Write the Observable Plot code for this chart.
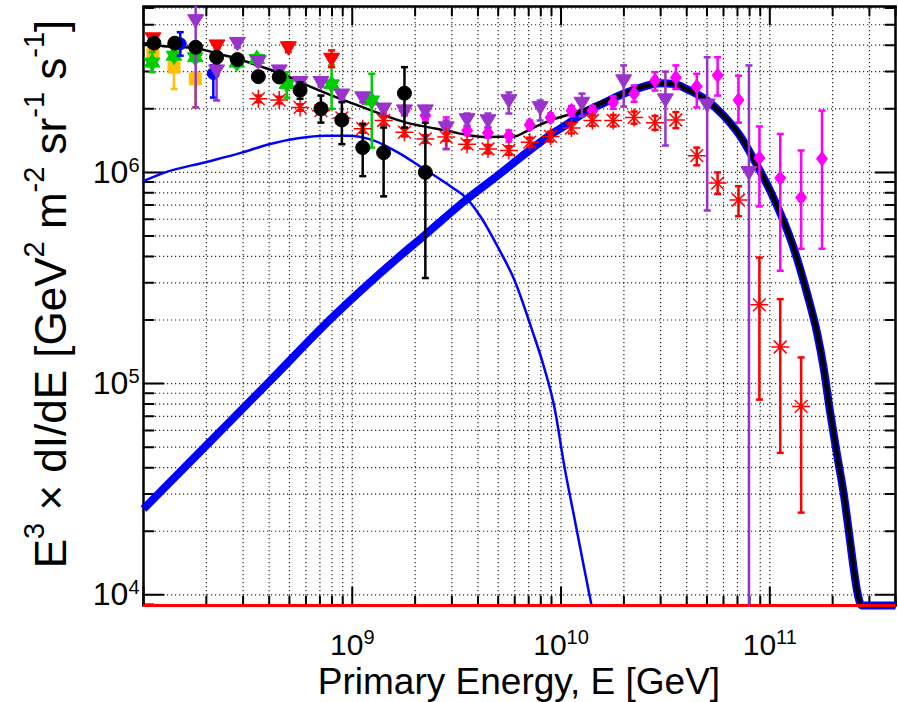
<!DOCTYPE html>
<html><head><meta charset="utf-8">
<script src="https://cdn.jsdelivr.net/npm/d3@7"></script>
<script src="https://cdn.jsdelivr.net/npm/@observablehq/plot@0.6"></script>
<style>body{margin:0;background:#fff;}</style>
</head><body><div id="chart"></div>
<script>
// ---------- tick labels ----------
const xTickLabels = [1e9, 1e10, 1e11];
const yTickLabels = [1e4, 1e5, 1e6];

// ---------- model curves ----------
const galE = [1e8,1.27e8,2e8,2.95e8,4e8,5.5e8,7.4e8,9.5e8,1.28e9,1.66e9,2.2e9,3e9,3.5e9,4.15e9,5e9,6e9,7.2e9,8.3e9,9.3e9,1.04e10,1.16e10,1.29e10,1.4e10];
const galF = [9.1e5,1.0e6,1.12e6,1.24e6,1.36e6,1.45e6,1.49e6,1.49e6,1.41e6,1.24e6,1.04e6,8.5e5,7.6e5,6.1e5,4.4e5,3.07e5,1.84e5,1.19e5,7.7e4,4.0e4,2.3e4,1.34e4,8.9e3];

const egE = [1e8,2e8,4e8,8e8,1.66e9,2.2e9,3.5e9,5e9,6e9,7.2e9,9.3e9,1.04e10,1.34e10,1.6e10,1.94e10,2.4e10,3e10,3.5e10,4e10,5e10,6e10,7.2e10,8.6e10,1.04e11,1.28e11,1.51e11,1.69e11,1.81e11,1.95e11,2.1e11,2.26e11,2.39e11,2.52e11,2.62e11,2.76e11,4e11];
const egF = [2.55e4,5.1e4,1.02e5,2.05e5,3.95e5,5.0e5,7.4e5,9.7e5,1.12e6,1.29e6,1.55e6,1.66e6,1.96e6,2.13e6,2.33e6,2.52e6,2.64e6,2.62e6,2.48e6,2.19e6,1.86e6,1.49e6,1.1e6,7.6e5,4.6e5,2.66e5,1.71e5,1.19e5,7.2e4,4.6e4,3.0e4,2.0e4,1.34e4,1.04e4,8.9e3,8.9e3];

const totE = [1e8,1.2e8,1.84e8,2.29e8,2.85e8,3.55e8,4.6e8,5.9e8,8e8,1.07e9,1.43e9,1.78e9,2.14e9,2.88e9,3.6e9,4.5e9,6e9,6.7e9,7.7e9,9.3e9,1.1e10,1.34e10,1.6e10,1.94e10,2.4e10,3e10,3.5e10,4e10,5e10,6e10,7.2e10,8.6e10,1.04e11,1.28e11,1.51e11,1.69e11,1.81e11,1.95e11,2.1e11,2.26e11,2.39e11,2.52e11,2.62e11,2.76e11,4e11];
const totF = [4.1e6,3.98e6,3.85e6,3.64e6,3.44e6,3.2e6,2.93e6,2.62e6,2.31e6,2.07e6,1.86e6,1.73e6,1.66e6,1.57e6,1.5e6,1.47e6,1.48e6,1.55e6,1.66e6,1.79e6,1.88e6,2.0e6,2.15e6,2.34e6,2.53e6,2.64e6,2.62e6,2.48e6,2.19e6,1.86e6,1.49e6,1.1e6,7.6e5,4.6e5,2.66e5,1.71e5,1.19e5,7.2e4,4.6e4,3.0e4,2.0e4,1.34e4,1.04e4,8.9e3,8.9e3];

const floorF = [8.9e3];

// ---------- data series ----------
const blkE  = [1.122e8,1.413e8,1.778e8,2.239e8,2.818e8,3.548e8,4.467e8,5.623e8,7.079e8,8.913e8,1.122e9,1.413e9,1.778e9,2.239e9];
const blkF  = [4.09e6,4.09e6,3.91e6,3.51e6,3.42e6,2.84e6,2.83e6,2.45e6,2.0e6,1.77e6,1.31e6,1.24e6,2.37e6,1.0e6];
const blkLo = [3.93e6,3.93e6,3.75e6,3.37e6,3.28e6,2.70e6,2.69e6,2.23e6,1.72e6,1.36e6,9.6e5,7.7e5,1.63e6,3.16e5];
const blkHi = [4.25e6,4.25e6,4.07e6,3.65e6,3.56e6,2.98e6,2.97e6,2.67e6,2.31e6,2.15e6,1.70e6,1.63e6,3.15e6,1.72e6];

const astE  = [3.548e8,4.467e8,5.623e8,7.079e8,8.913e8,1.122e9,1.413e9,1.778e9,2.239e9,2.818e9,3.548e9,4.467e9,5.623e9,7.079e9,8.913e9,1.122e10,1.413e10,1.778e10,2.239e10,2.818e10,3.548e10,4.467e10,5.623e10,7.079e10,8.913e10,1.122e11,1.413e11];
const astF  = [2.23e6,2.20e6,2.03e6,1.96e6,1.81e6,1.61e6,1.76e6,1.55e6,1.44e6,1.47e6,1.36e6,1.29e6,1.27e6,1.39e6,1.48e6,1.62e6,1.76e6,1.76e6,1.82e6,1.72e6,1.77e6,1.20e6,8.9e5,7.4e5,2.36e5,1.49e5,7.8e4];
const astLo = [2.15e6,2.12e6,1.96e6,1.89e6,1.74e6,1.54e6,1.68e6,1.48e6,1.38e6,1.41e6,1.30e6,1.23e6,1.21e6,1.32e6,1.40e6,1.53e6,1.66e6,1.65e6,1.70e6,1.59e6,1.62e6,1.08e6,7.9e5,6.2e5,8.4e4,4.7e4,2.45e4];
const astHi = [2.31e6,2.28e6,2.10e6,2.03e6,1.88e6,1.68e6,1.84e6,1.62e6,1.50e6,1.53e6,1.42e6,1.35e6,1.33e6,1.46e6,1.56e6,1.71e6,1.86e6,1.87e6,1.94e6,1.85e6,1.93e6,1.31e6,1.0e6,8.6e5,3.95e5,2.51e5,1.33e5];

const purE  = [1.778e8,2.239e8,2.818e8,3.548e8,4.467e8,5.623e8,7.079e8,8.913e8,1.122e9,1.413e9,1.778e9,2.239e9,2.818e9,3.548e9,4.467e9,5.623e9,7.943e9,1.259e10,1.995e10,3.162e10,5.012e10,7.943e10];
const purF  = [5.24e6,3.03e6,4.09e6,3.35e6,3.03e6,2.67e6,2.67e6,2.33e6,2.26e6,2.0e6,1.96e6,1.96e6,1.63e6,1.78e6,1.76e6,2.19e6,2.03e6,2.13e6,2.72e6,2.21e6,2.09e6,1.0e6];
const purLo = [2.03e6,2.19e6,3.9e6,3.2e6,2.9e6,2.55e6,2.55e6,2.22e6,2.15e6,1.9e6,1.86e6,1.86e6,1.29e6,1.66e6,1.64e6,1.90e6,1.76e6,1.84e6,2.05e6,1.34e6,6.6e5,1e3];
const purHi = [7e6,3.24e6,4.3e6,3.5e6,3.17e6,2.8e6,2.8e6,2.44e6,2.37e6,2.1e6,2.06e6,2.06e6,1.76e6,1.90e6,1.90e6,2.39e6,2.19e6,2.36e6,3.21e6,3.0e6,3.51e6,3.21e6];

const magE  = [1.778e9,2.239e9,2.818e9,3.548e9,4.467e9,5.623e9,7.079e9,8.913e9,1.122e10,1.413e10,1.778e10,2.239e10,2.818e10,3.548e10,4.467e10,5.623e10,7.079e10,8.913e10,1.122e11,1.413e11,1.778e11];
const magF  = [1.96e6,1.86e6,1.66e6,1.58e6,1.54e6,1.49e6,1.68e6,1.82e6,1.96e6,1.96e6,2.14e6,2.36e6,2.72e6,2.81e6,2.55e6,2.88e6,2.20e6,1.17e6,9.4e5,7.6e5,1.16e6];
const magLo = [1.88e6,1.78e6,1.29e6,1.5e6,1.46e6,1.40e6,1.60e6,1.74e6,1.86e6,1.86e6,2.0e6,2.16e6,2.44e6,2.48e6,2.03e6,2.31e6,1.72e6,6.9e5,3.42e5,4.35e5,4.35e5];
const magHi = [2.04e6,1.94e6,1.82e6,1.66e6,1.62e6,1.58e6,1.76e6,1.90e6,2.06e6,2.06e6,2.29e6,2.58e6,2.98e6,3.21e6,2.93e6,3.51e6,2.87e6,1.65e6,1.52e6,1.27e6,1.96e6];

const rtrE  = [1.11e8,2.25e8,4.94e8,7.96e8];
const rtrF  = [4.3e6,3.98e6,3.9e6,3.44e6];
const rtrLo = [4.15e6,3.85e6,3.71e6,3.15e6];
const rtrHi = [4.45e6,4.12e6,4.13e6,3.78e6];

const grnE  = [1.10e8,1.40e8,1.77e8,2.80e8,3.49e8,4.86e8,7.96e8,1.24e9];
const grnF  = [3.31e6,3.57e6,3.51e6,3.31e6,3.44e6,2.62e6,2.61e6,2.19e6];
const grnLo = [2.98e6,3.4e6,3.35e6,3.15e6,3.28e6,2.26e6,2.0e6,1.31e6];
const grnHi = [3.71e6,3.75e6,3.68e6,3.47e6,3.6e6,2.98e6,3.21e6,2.93e6];

const ylwE  = [1.11e8,1.40e8,1.77e8];
const ylwF  = [3.7e6,3.15e6,2.77e6];
const ylwLo = [3.55e6,2.48e6,2.03e6];
const ylwHi = [3.85e6,3.51e6,2.98e6];

const bluE  = [1.50e8,2.16e8];
const bluF  = [4.06e6,2.94e6];
const bluLo = [3.57e6,2.26e6];
const bluHi = [4.61e6,3.21e6];

// ---------- helpers ----------
const FONT = "'Liberation Sans', Arial, Helvetica, sans-serif";
const rows = (E, F, lo, hi) => E.map((e, i) => ({E: e, F: F[i], lo: lo ? lo[i] : null, hi: hi ? hi[i] : null}));
const pts = (E, F) => E.map((e, i) => ({E: e, F: F[i]}));
const sym = (fn) => ({draw(ctx, size) { fn(ctx, Math.sqrt(size / Math.PI)); }});

const capSym = sym((c, r) => { c.moveTo(-r, 0); c.lineTo(r, 0); });
const triDown = sym((c, r) => { c.moveTo(-r, -0.72 * r); c.lineTo(r, -0.72 * r); c.lineTo(0, 0.95 * r); c.closePath(); });
const diamondSym = sym((c, r) => { c.moveTo(0, -1.3 * r); c.lineTo(r, 0); c.lineTo(0, 1.3 * r); c.lineTo(-r, 0); c.closePath(); });
const squareSym = sym((c, r) => { c.rect(-r, -r, 2 * r, 2 * r); });
const circleSym = sym((c, r) => { c.moveTo(r, 0); c.arc(0, 0, r, 0, 2 * Math.PI); });
const asterSym = sym((c, r) => {
  for (let k = 0; k < 4; k++) {
    const a = k * Math.PI / 4;
    c.moveTo(r * Math.cos(a), r * Math.sin(a));
    c.lineTo(-r * Math.cos(a), -r * Math.sin(a));
  }
});
const hexSym = sym((c, r) => {
  for (let k = 0; k < 12; k++) {
    const a = -Math.PI / 2 + k * Math.PI / 6;
    const rr = k % 2 === 0 ? r : r / Math.sqrt(3);
    const x = rr * Math.cos(a), y = rr * Math.sin(a);
    if (k === 0) c.moveTo(x, y); else c.lineTo(x, y);
  }
  c.closePath();
});
const tickShape = {draw(ctx, l) { ctx.moveTo(0, 0); ctx.lineTo(0, -l); }};

function series(data, color, symbol, r, opts = {}) {
  const ebw = opts.ebw ?? 2.5;
  return [
    Plot.ruleX(data, {x: "E", y1: "lo", y2: "hi", stroke: color, strokeWidth: ebw, clip: true}),
    Plot.dot(data, {x: "E", y: "lo", symbol: capSym, r: 3.5, stroke: color, strokeWidth: ebw, clip: true}),
    Plot.dot(data, {x: "E", y: "hi", symbol: capSym, r: 3.5, stroke: color, strokeWidth: ebw, clip: true}),
    Plot.dot(data, {x: "E", y: "F", symbol, r, fill: opts.fill ?? color, stroke: color, strokeWidth: opts.sw ?? 1})
  ];
}

// ticks (major & minor)
const xMajor = [], xMinor = [], yMajor = [], yMinor = [];
for (let k = 8; k <= 11; k++) for (let m = 1; m <= 9; m++) {
  const v = m * Math.pow(10, k);
  if (v >= 1e8 && v <= 4e11) (m === 1 ? xMajor : xMinor).push(v);
}
for (let k = 3; k <= 6; k++) for (let m = 1; m <= 9; m++) {
  const v = m * Math.pow(10, k);
  if (v >= 8.9e3 && v <= 6.1e6) (m === 1 ? yMajor : yMinor).push(v);
}
const xAll = xMajor.concat(xMinor), yAll = yMajor.concat(yMinor);

const totRows = pts(totE, totF);
const totLow = totRows.filter(d => d.E <= 1.1e10);
const totHigh = totRows.filter(d => d.E >= 1.1e10);

const tk = (o) => ({stroke: "black", strokeWidth: 2, anchor: "start", shape: tickShape, ...o});
const CURVE = "monotone-x";

const chart = Plot.plot({
  width: 898, height: 702,
  marginLeft: 143, marginRight: 3, marginTop: 6, marginBottom: 97,
  style: {fontFamily: FONT, background: "white", color: "black"},
  x: {type: "log", domain: [1e8, 4e11]},
  y: {type: "log", domain: [8.9e3, 6.1e6]},
  marks: [
    Plot.gridX(xAll, {stroke: "black", strokeOpacity: 0.85, strokeWidth: 1.2, strokeDasharray: "1.2,2.8"}),
    Plot.gridY(yAll, {stroke: "black", strokeOpacity: 0.85, strokeWidth: 1.2, strokeDasharray: "1.2,2.8"}),
    Plot.frame({stroke: "black", strokeWidth: 2.5}),
    // ticks
    Plot.vectorX(xMajor, tk({x: d => d, frameAnchor: "bottom", length: 18})),
    Plot.vectorX(xMinor, tk({x: d => d, frameAnchor: "bottom", length: 9})),
    Plot.vectorX(xMajor, tk({x: d => d, frameAnchor: "top", length: 18, rotate: 180})),
    Plot.vectorX(xMinor, tk({x: d => d, frameAnchor: "top", length: 9, rotate: 180})),
    Plot.vectorY(yMajor, tk({y: d => d, frameAnchor: "left", length: 20, rotate: 90})),
    Plot.vectorY(yMinor, tk({y: d => d, frameAnchor: "left", length: 10, rotate: 90})),
    Plot.vectorY(yMajor, tk({y: d => d, frameAnchor: "right", length: 20, rotate: -90})),
    Plot.vectorY(yMinor, tk({y: d => d, frameAnchor: "right", length: 10, rotate: -90})),
    // curves
    Plot.line(pts(galE, galF), {x: "E", y: "F", stroke: "#0000ff", strokeWidth: 2.5, curve: CURVE}),
    Plot.line(pts(egE, egF), {x: "E", y: "F", stroke: "#0000ff", strokeWidth: 8, curve: CURVE, strokeLinecap: "butt"}),
    Plot.line(totLow, {x: "E", y: "F", stroke: "black", strokeWidth: 2.5, curve: CURVE}),
    Plot.line(totHigh, {x: "E", y: "F", stroke: "black", strokeWidth: 4.5, curve: CURVE, strokeLinecap: "butt"}),
    Plot.ruleY(floorF, {stroke: "#ff0000", strokeWidth: 3}),
    // data
    ...series(rows(ylwE, ylwF, ylwLo, ylwHi), "#ffc000", squareSym, 6),
    ...series(rows(grnE, grnF, grnLo, grnHi), "#00cc00", hexSym, 9),
    ...series(rows(bluE, bluF, bluLo, bluHi), "#0000ff", circleSym, 6),
    ...series(rows(rtrE, rtrF, rtrLo, rtrHi), "#ff0000", triDown, 8),
    ...series(rows(magE, magF, magLo, magHi), "#ff00ff", diamondSym, 5.5),
    ...series(rows(purE, purF, purLo, purHi), "#9933cc", triDown, 8),
    ...series(rows(astE, astF, astLo, astHi), "#ff0000", asterSym, 9, {fill: "none", sw: 1.5}),
    ...series(rows(blkE, blkF, blkLo, blkHi), "black", circleSym, 7),
    // tick labels
    Plot.axisX(xTickLabels, {anchor: "bottom", tickSize: 0, tickPadding: 28, fontSize: 30, label: null,
      tickFormat: d => "10^" + Math.round(Math.log10(d))}),
    Plot.axisY(yTickLabels, {anchor: "left", tickSize: 0, tickPadding: 4, fontSize: 32, label: null,
      tickFormat: d => "10^" + Math.round(Math.log10(d))})
  ]
});

const svg = d3.select(chart);
svg.selectAll('g[aria-label="x-axis tick label"] text, g[aria-label="y-axis tick label"] text').each(function () {
  const t = d3.select(this);
  const s = this.textContent;
  const [base, ex] = s.split("^");
  t.text(null);
  t.append("tspan").text(base);
  t.append("tspan").attr("font-size", 20).attr("dy", "-0.55em").text(ex);
});

// x label
svg.append("text")
  .attr("x", 519).attr("y", 694)
  .attr("text-anchor", "middle")
  .attr("font-family", FONT).attr("font-size", 37).attr("fill", "black")
  .text("Primary Energy, E [GeV]");

// y label
const yl = svg.append("text")
  .attr("transform", "translate(66,294) rotate(-90)")
  .attr("text-anchor", "middle")
  .attr("font-family", FONT).attr("font-size", 44).attr("fill", "black");
const parts = [["E", false], ["3", true], [" \u00d7 dI/dE [GeV", false], ["2", true], [" m", false], ["-2", true],
  [" sr", false], ["-1", true], [" s", false], ["-1", true], ["]", false]];
let up = false;
for (const [txt, sup] of parts) {
  const ts = yl.append("tspan").text(txt);
  if (sup && !up) { ts.attr("font-size", 29).attr("dy", "-0.75em"); up = true; }
  else if (!sup && up) { ts.attr("dy", "0.494em"); up = false; }
}

document.getElementById("chart").append(chart);
</script>
</body></html>
